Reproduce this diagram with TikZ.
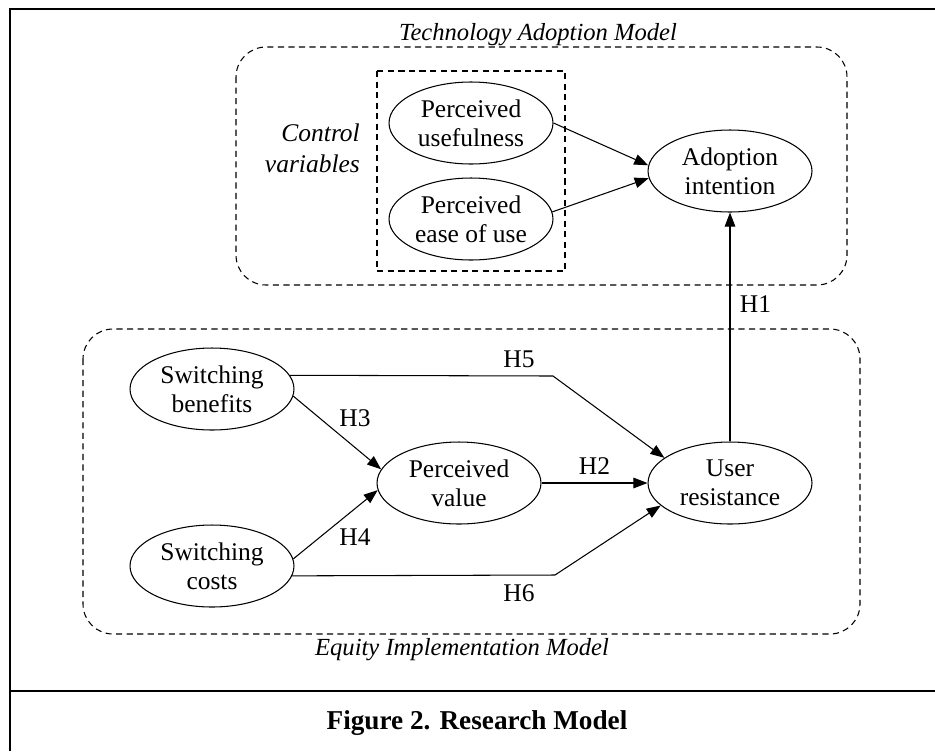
\documentclass[tikz,border=0pt]{standalone}
\usepackage{fontspec}
\setmainfont{Liberation Serif}
\usetikzlibrary{shapes.geometric,arrows.meta}
\tikzset{
  construct/.style={draw, ellipse, line width=0.6pt, minimum width=3.28cm, minimum height=1.64cm,
    inner sep=0pt, align=center, font=\fontsize{14.5}{16.5}\selectfont},
  arr/.style={line width=0.6pt, -{Triangle[length=8pt, width=6pt]}},
  hyp/.style={font=\fontsize{14.5}{16.5}\selectfont},
  modelbox/.style={line width=0.6pt, dash pattern=on 3.5pt off 2.5pt},
  frameline/.style={line width=1.2pt}
}
\begin{document}
\begin{tikzpicture}[x=0.02cm, y=-0.02cm]
  \useasboundingbox (0,0) rectangle (935,751);
  % frame
  \draw[frameline] (935,9) -- (10,9) -- (10,751);
  \draw[frameline] (10,691) -- (935,691);
  \node[font=\fontsize{15.5}{18}\selectfont\bfseries] (caption) at (477,723) {Figure 2. Research Model};

  % technology adoption model
  \draw[modelbox, rounded corners=0.6cm] (236,47) rectangle (847,285);
  \node[font=\fontsize{14}{16.5}\selectfont\itshape] (tamlabel) at (538,35) {Technology Adoption Model};
  \draw[modelbox] (377,71) rectangle (565,271);
  \node[anchor=east, align=right, font=\fontsize{14.5}{17.5}\selectfont\itshape] (ctrl) at (366,148) {Control\\variables};
  \node[construct] (pu) at (471,123) {Perceived\\usefulness};
  \node[construct] (pe) at (471,219) {Perceived\\ease of use};
  \node[construct] (ai) at (730,171) {Adoption\\intention};
  \draw[arr] (pu.east) -- (ai.176);
  \draw[arr] (pe.5) -- (ai.185);

  % equity implementation model
  \draw[modelbox, rounded corners=0.6cm] (83,329) rectangle (860,634);
  \node[font=\fontsize{14}{16.5}\selectfont\itshape] (eimlabel) at (462,650) {Equity Implementation Model};
  \node[construct] (sb) at (212,389) {Switching\\benefits};
  \node[construct] (sc) at (212,566) {Switching\\costs};
  \node[construct] (pv) at (459,483) {Perceived\\value};
  \node[construct] (ur) at (730,483) {User\\resistance};
  \coordinate (bend5) at (553,376);
  \coordinate (bend6) at (555,575);

  \draw[arr] (ur.north) -- (ai.south) node[hyp, pos=0.6, right, xshift=2pt] {H1};
  \draw[arr] (pv.east) -- (ur.west) node[hyp, midway, above, yshift=1pt] {H2};
  \draw[arr] (sb.-5) -- (pv.170);
  \node[hyp] (h3) at (355,418) {H3};
  \draw[arr] (sc.5) -- (pv.185);
  \node[hyp] (h4) at (355,537) {H4};
  \draw[arr] (sb.10) -- (bend5) -- (ur.159);
  \node[hyp] (h5) at (519,359) {H5};
  \draw[arr] (sc.-7) -- (bend6) -- (ur.198);
  \node[hyp] (h6) at (519,593) {H6};
\end{tikzpicture}
\end{document}
